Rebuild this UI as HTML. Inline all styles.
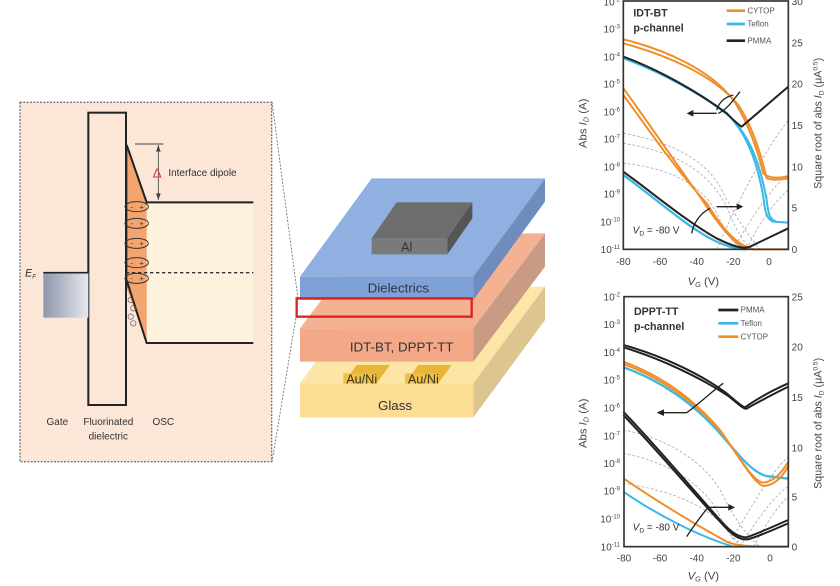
<!DOCTYPE html>
<html><head><meta charset="utf-8"><style>
html,body{margin:0;padding:0;background:#fff;width:840px;height:586px;overflow:hidden}
svg{display:block;font-family:"Liberation Sans",sans-serif}
</style></head><body>
<svg width="840" height="586" viewBox="0 0 840 586" xmlns="http://www.w3.org/2000/svg">
<defs>
<linearGradient id="gg" x1="0" x2="1"><stop offset="0" stop-color="#8d96aa"/><stop offset="1" stop-color="#e6e8ee"/></linearGradient>
</defs>
<!-- connectors -->
<line x1="272" y1="102" x2="298" y2="299" stroke="#666" stroke-dasharray="2,1.5" stroke-width="0.8"/>
<line x1="272" y1="462" x2="296" y2="317" stroke="#666" stroke-dasharray="2,1.5" stroke-width="0.8"/>

<!-- LEFT PANEL -->
<g transform="translate(0,90) scale(0.33333)">
<rect x="60" y="37" width="755" height="1078" fill="#fbe6d8" stroke="#777" stroke-width="4" stroke-dasharray="6,4"/>
<rect x="440" y="337" width="320" height="422" fill="#fdf2dc"/>
<polygon points="380,165 440,337 440,759 380,595" fill="#f3a46f"/>
<rect x="265" y="68" width="113" height="877" fill="#fbe6d8" stroke="#222" stroke-width="6"/>
<polyline points="380,165 440,337 760,337" fill="none" stroke="#222" stroke-width="6"/>
<polyline points="380,570 440,759 760,759" fill="none" stroke="#222" stroke-width="6"/>
<line x1="380" y1="165" x2="380" y2="595" stroke="#222" stroke-width="4"/>
<rect x="130" y="548" width="135" height="135" fill="url(#gg)"/>
<line x1="130" y1="548" x2="265" y2="548" stroke="#222" stroke-width="5"/>
<line x1="378" y1="548" x2="760" y2="548" stroke="#333" stroke-width="4" stroke-dasharray="10,8"/>
<g fill="none" stroke="#333" stroke-width="3">
<ellipse cx="410" cy="350" rx="35" ry="15"/><ellipse cx="410" cy="400" rx="35" ry="15"/>
<ellipse cx="410" cy="460" rx="35" ry="15"/><ellipse cx="410" cy="518" rx="35" ry="15"/>
<ellipse cx="410" cy="565" rx="35" ry="15"/>
</g>
<g font-size="22" fill="#333" text-anchor="middle">
<text x="395" y="358">-</text><text x="425" y="358">+</text>
<text x="395" y="408">-</text><text x="425" y="408">+</text>
<text x="395" y="468">-</text><text x="425" y="468">+</text>
<text x="395" y="526">-</text><text x="425" y="526">+</text>
<text x="395" y="573">-</text><text x="425" y="573">+</text>
</g>
<g fill="none" stroke="#555" stroke-width="2">
<circle cx="392" cy="630" r="8"/><circle cx="400" cy="655" r="8"/><circle cx="392" cy="680" r="8"/><circle cx="400" cy="700" r="8"/>
</g>
<line x1="405" y1="162" x2="490" y2="162" stroke="#444" stroke-width="3"/>
<line x1="475" y1="165" x2="475" y2="330" stroke="#444" stroke-width="2.5"/>
<polygon points="475,165 468,185 482,185" fill="#444"/><polygon points="475,330 468,310 482,310" fill="#444"/>
<text x="458" y="262" font-size="40" fill="#e03a3a">Δ</text>
<text x="505" y="258" font-size="30" fill="#333">Interface dipole</text>
<text x="75" y="560" font-size="32" font-style="italic" fill="#333">E<tspan font-size="20" dy="6">F</tspan></text>
<g font-size="30" fill="#333" text-anchor="middle">
<text x="172" y="1005">Gate</text><text x="325" y="1005">Fluorinated</text><text x="325" y="1048">dielectric</text><text x="490" y="1005">OSC</text>
</g>
</g>

<!-- MIDDLE STACK -->
<g transform="translate(280,170) scale(0.33333)">
<!-- glass -->
<polygon points="60,640 275,350 795,350 580,640" fill="#fde5a6"/>
<rect x="60" y="640" width="520" height="102" fill="#fcdd93"/>
<polygon points="580,640 795,350 795,450 580,742" fill="#dcc58f"/>
<polygon points="190,640 230,585 330,585 290,640" fill="#e8b53a"/><rect x="190" y="610" width="100" height="30" fill="#f0c040"/>
<polygon points="375,640 415,585 515,585 475,640" fill="#e8b53a"/><rect x="375" y="610" width="100" height="30" fill="#f0c040"/>
<text x="245" y="640" font-size="38" fill="#333" text-anchor="middle">Au/Ni</text>
<text x="430" y="640" font-size="38" fill="#333" text-anchor="middle">Au/Ni</text>
<text x="345" y="720" font-size="40" fill="#333" text-anchor="middle">Glass</text>
<!-- osc -->
<polygon points="60,475 275,190 795,190 580,475" fill="#f5b293"/>
<rect x="60" y="475" width="520" height="100" fill="#f3a888"/>
<polygon points="580,475 795,190 795,290 580,575" fill="#c99b85"/>
<text x="365" y="545" font-size="40" fill="#333" text-anchor="middle">IDT-BT, DPPT-TT</text>
<!-- dielectric -->
<polygon points="60,320 275,25 795,25 580,320" fill="#8fb0e0"/>
<rect x="60" y="320" width="520" height="70" fill="#7ea1d8"/>
<polygon points="580,320 795,25 795,95 580,390" fill="#6f8cbd"/>
<text x="355" y="368" font-size="40" fill="#334" text-anchor="middle">Dielectrics</text>
<!-- Al -->
<polygon points="275,205 350,97 577,97 502,205" fill="#6d6d6d"/>
<rect x="275" y="205" width="227" height="48" fill="#7a7a7a"/>
<polygon points="502,205 577,97 577,145 502,253" fill="#555"/>
<text x="380" y="245" font-size="38" fill="#333" text-anchor="middle">Al</text>
<rect x="50" y="385" width="525" height="55" fill="none" stroke="#e02020" stroke-width="7"/>
</g>

<!-- TOP CHART -->
<g transform="translate(560,0) scale(0.33333)">
<g fill="none" stroke="#aaa" stroke-width="2.5" stroke-dasharray="8,6">
<path d="M190,400 C300,420 420,460 480,560 C520,640 560,700 600,748"/>
<path d="M190,490 C300,500 420,540 470,640 C500,700 520,740 560,748"/>
<path d="M190,430 C320,450 440,500 500,620 C530,700 560,740 580,748"/>
<path d="M470,748 C520,640 580,500 685,360"/>
<path d="M520,748 C580,640 640,560 685,520"/>
<path d="M560,748 C600,660 650,600 685,570"/>
</g>
<g fill="none" stroke-linejoin="round">
<path d="M190,118 C320,150 450,210 520,300 C560,360 590,440 610,520 C625,535 650,535 685,530" stroke="#ef8f2a" stroke-width="6"/>
<path d="M190,130 C320,165 460,225 535,315 C575,375 600,450 620,535 C635,540 660,540 685,535" stroke="#ef8f2a" stroke-width="6"/>
<path d="M190,172 C300,210 420,280 500,340 C560,400 590,480 610,590 C615,640 622,660 640,665 L685,668" stroke="#3bb8e6" stroke-width="6"/>
<path d="M190,175 C300,215 430,285 510,350 C570,410 600,490 620,600 C625,645 630,660 650,665" stroke="#3bb8e6" stroke-width="6"/>
<path d="M190,170 C300,210 420,280 500,340 C520,360 535,375 545,380 L685,260" stroke="#222" stroke-width="6"/>
<path d="M190,265 C260,360 340,480 420,590 C480,680 520,730 560,748" stroke="#ef8f2a" stroke-width="6"/>
<path d="M190,285 C260,380 340,500 440,610 C490,690 530,735 580,748 L685,748" stroke="#ef8f2a" stroke-width="6"/>
<path d="M190,525 C280,590 380,680 460,720 C500,740 530,748 560,748" stroke="#3bb8e6" stroke-width="7"/>
<path d="M190,515 C280,580 380,665 470,715 C520,740 550,748 570,740 L685,685" stroke="#222" stroke-width="6"/>
<path d="M390,340 L470,340 M470,330 C480,300 500,290 520,285 M475,340 C500,330 520,300 540,275" stroke="#222" stroke-width="4"/>
<path d="M470,620 L540,620 M395,700 C400,670 420,640 450,625" stroke="#222" stroke-width="4"/>
</g>
<polygon points="380,340 400,330 400,350" fill="#222"/>
<polygon points="550,620 530,610 530,630" fill="#222"/>
<rect x="190" y="3" width="495" height="745" fill="none" stroke="#333" stroke-width="5"/>
<g font-size="30" fill="#444" text-anchor="end">
<text x="180" y="16">10<tspan font-size="18" dy="-12">-2</tspan></text>
<text x="180" y="98">10<tspan font-size="18" dy="-12">-3</tspan></text>
<text x="180" y="181">10<tspan font-size="18" dy="-12">-4</tspan></text>
<text x="180" y="263">10<tspan font-size="18" dy="-12">-5</tspan></text>
<text x="180" y="346">10<tspan font-size="18" dy="-12">-6</tspan></text>
<text x="180" y="428">10<tspan font-size="18" dy="-12">-7</tspan></text>
<text x="180" y="511">10<tspan font-size="18" dy="-12">-8</tspan></text>
<text x="180" y="593">10<tspan font-size="18" dy="-12">-9</tspan></text>
<text x="180" y="676">10<tspan font-size="18" dy="-12">-10</tspan></text>
<text x="180" y="759">10<tspan font-size="18" dy="-12">-11</tspan></text>
</g>
<g font-size="30" fill="#444">
<text x="695" y="759">0</text><text x="695" y="635">5</text><text x="695" y="511">10</text><text x="695" y="387">15</text><text x="695" y="263">20</text><text x="695" y="139">25</text><text x="695" y="15">30</text>
</g>
<g font-size="30" fill="#444" text-anchor="middle">
<text x="190" y="795">-80</text><text x="300" y="795">-60</text><text x="410" y="795">-40</text><text x="520" y="795">-20</text><text x="627" y="795">0</text>
<text x="430" y="855" font-size="34"><tspan font-style="italic">V</tspan><tspan font-size="22" dy="6" font-style="italic">G</tspan><tspan dy="-6"> (V)</tspan></text>
</g>
<text x="220" y="50" font-size="32" font-weight="bold" fill="#333">IDT-BT</text>
<text x="220" y="95" font-size="32" font-weight="bold" fill="#333">p-channel</text>
<text x="218" y="700" font-size="30" fill="#333"><tspan font-style="italic">V</tspan><tspan font-size="20" dy="6">D</tspan><tspan dy="-6"> = -80 V</tspan></text>
<g stroke-width="8"><line x1="500" y1="32" x2="555" y2="32" stroke="#ef8f2a"/><line x1="500" y1="72" x2="555" y2="72" stroke="#3bb8e6"/><line x1="500" y1="122" x2="555" y2="122" stroke="#222"/></g>
<g font-size="24" fill="#555"><text x="562" y="40">CYTOP</text><text x="562" y="80">Teflon</text><text x="562" y="130">PMMA</text></g>
<text transform="translate(80,370) rotate(-90)" font-size="34" fill="#444" text-anchor="middle">Abs <tspan font-style="italic">I</tspan><tspan font-size="22" dy="6" font-style="italic">D</tspan><tspan dy="-6"> (A)</tspan></text>
<text transform="translate(785,370) rotate(-90)" font-size="32" fill="#444" text-anchor="middle">Square root of abs <tspan font-style="italic">I</tspan><tspan font-size="20" dy="6">D</tspan><tspan dy="-6">  (μA</tspan><tspan font-size="20" dy="-12">0.5</tspan><tspan dy="12">)</tspan></text>
</g>

<!-- BOTTOM CHART -->
<g transform="translate(560,290) scale(0.33333)">
<g fill="none" stroke="#aaa" stroke-width="2.5" stroke-dasharray="8,6">
<path d="M190,420 C300,440 420,500 480,600 C520,680 560,740 600,770"/>
<path d="M190,490 C300,510 420,570 470,660 C500,720 530,760 560,770"/>
<path d="M190,580 C320,600 440,640 500,720 C520,750 540,770 560,770"/>
<path d="M500,770 C560,680 620,560 685,500"/>
<path d="M540,770 C590,690 640,620 685,590"/>
<path d="M580,770 C620,700 650,650 685,620"/>
</g>
<g fill="none" stroke-linejoin="round">
<path d="M190,165 C300,195 420,250 500,310 C530,335 545,350 555,352 C600,320 640,300 685,280" stroke="#222" stroke-width="6"/>
<path d="M190,172 C300,205 420,262 505,318 C535,342 550,358 560,356 C605,330 645,310 685,290" stroke="#222" stroke-width="6"/>
<path d="M190,232 C300,270 400,340 480,430 C540,500 580,550 620,558 L685,566" stroke="#3bb8e6" stroke-width="7"/>
<path d="M190,215 C300,255 400,325 480,420 C540,505 580,575 610,578 C640,575 665,550 685,515" stroke="#ef8f2a" stroke-width="6"/>
<path d="M190,222 C300,262 400,332 485,428 C545,512 585,585 612,588 C645,585 668,560 685,528" stroke="#ef8f2a" stroke-width="6"/>
<path d="M190,365 C300,480 400,600 480,690 C520,735 540,742 560,742 C620,720 660,700 685,690" stroke="#222" stroke-width="6"/>
<path d="M190,375 C300,490 400,610 485,700 C525,745 545,750 565,748 C620,730 660,710 685,700" stroke="#222" stroke-width="6"/>
<path d="M190,565 C300,640 400,700 500,755 C530,768 560,770 685,770" stroke="#ef8f2a" stroke-width="6"/>
<path d="M190,605 C300,680 420,740 520,770 L685,770" stroke="#3bb8e6" stroke-width="6"/>
<path d="M300,368 L380,368 M380,368 C420,340 460,300 490,280" stroke="#222" stroke-width="4"/>
<path d="M440,652 L510,652 M445,652 C420,680 400,710 380,740" stroke="#222" stroke-width="4"/>
</g>
<polygon points="290,368 312,358 312,378" fill="#222"/>
<polygon points="525,652 505,642 505,662" fill="#222"/>
<rect x="192" y="20" width="493" height="750" fill="none" stroke="#333" stroke-width="5"/>
<g font-size="30" fill="#444" text-anchor="end">
<text x="180" y="31">10<tspan font-size="18" dy="-12">-2</tspan></text>
<text x="180" y="114">10<tspan font-size="18" dy="-12">-3</tspan></text>
<text x="180" y="198">10<tspan font-size="18" dy="-12">-4</tspan></text>
<text x="180" y="281">10<tspan font-size="18" dy="-12">-5</tspan></text>
<text x="180" y="364">10<tspan font-size="18" dy="-12">-6</tspan></text>
<text x="180" y="448">10<tspan font-size="18" dy="-12">-7</tspan></text>
<text x="180" y="531">10<tspan font-size="18" dy="-12">-8</tspan></text>
<text x="180" y="614">10<tspan font-size="18" dy="-12">-9</tspan></text>
<text x="180" y="698">10<tspan font-size="18" dy="-12">-10</tspan></text>
<text x="180" y="781">10<tspan font-size="18" dy="-12">-11</tspan></text>
</g>
<g font-size="30" fill="#444">
<text x="695" y="781">0</text><text x="695" y="631">5</text><text x="695" y="484">10</text><text x="695" y="333">15</text><text x="695" y="181">20</text><text x="695" y="31">25</text>
</g>
<g font-size="30" fill="#444" text-anchor="middle">
<text x="192" y="815">-80</text><text x="300" y="815">-60</text><text x="410" y="815">-40</text><text x="520" y="815">-20</text><text x="630" y="815">0</text>
<text x="430" y="868" font-size="34"><tspan font-style="italic">V</tspan><tspan font-size="22" dy="6" font-style="italic">G</tspan><tspan dy="-6"> (V)</tspan></text>
</g>
<text x="222" y="75" font-size="32" font-weight="bold" fill="#333">DPPT-TT</text>
<text x="222" y="120" font-size="32" font-weight="bold" fill="#333">p-channel</text>
<text x="218" y="722" font-size="30" fill="#333"><tspan font-style="italic">V</tspan><tspan font-size="20" dy="6">D</tspan><tspan dy="-6"> = -80 V</tspan></text>
<g stroke-width="8"><line x1="475" y1="60" x2="535" y2="60" stroke="#222"/><line x1="475" y1="100" x2="535" y2="100" stroke="#3bb8e6"/><line x1="475" y1="140" x2="535" y2="140" stroke="#ef8f2a"/></g>
<g font-size="24" fill="#555"><text x="542" y="68">PMMA</text><text x="542" y="108">Teflon</text><text x="542" y="148">CYTOP</text></g>
<text transform="translate(80,400) rotate(-90)" font-size="34" fill="#444" text-anchor="middle">Abs <tspan font-style="italic">I</tspan><tspan font-size="22" dy="6" font-style="italic">D</tspan><tspan dy="-6"> (A)</tspan></text>
<text transform="translate(785,400) rotate(-90)" font-size="32" fill="#444" text-anchor="middle">Square root of abs <tspan font-style="italic">I</tspan><tspan font-size="20" dy="6">D</tspan><tspan dy="-6">  (μA</tspan><tspan font-size="20" dy="-12">0.5</tspan><tspan dy="12">)</tspan></text>
</g>
</svg>
</body></html>
